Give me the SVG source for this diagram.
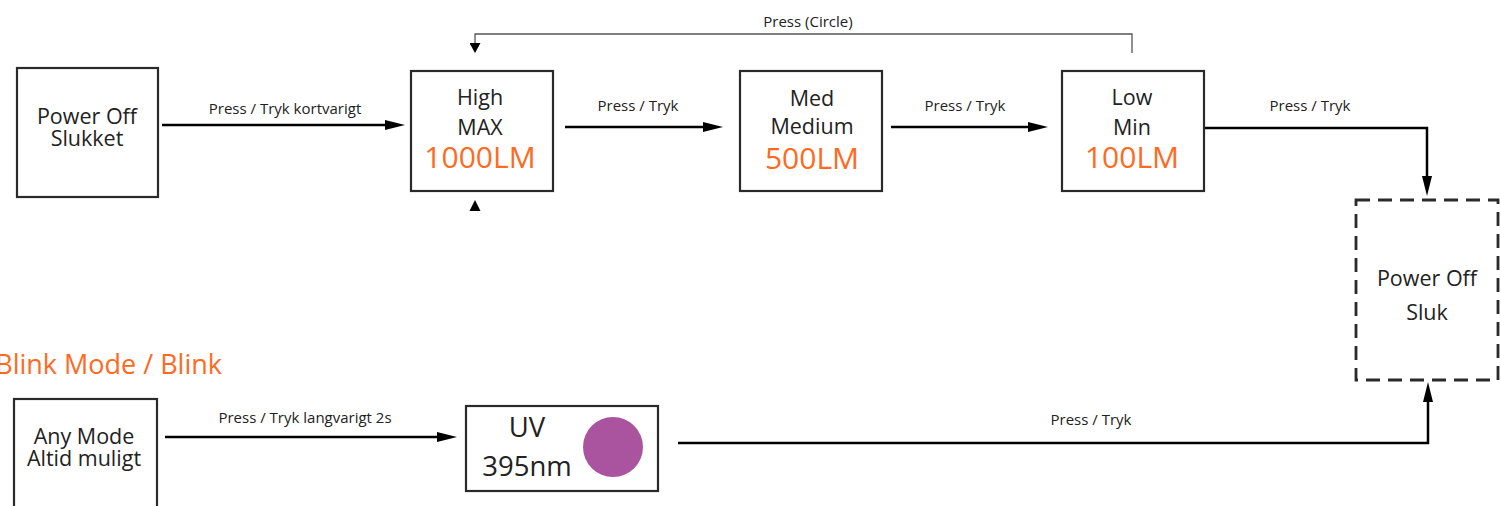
<svg xmlns="http://www.w3.org/2000/svg" width="1501" height="506" viewBox="0 0 1501 506">
<defs>
<style>
.box{fill:#fff;stroke:#2a2a2a;stroke-width:2.2}
.dash{fill:#fff;stroke:#2a2a2a;stroke-width:2.8;stroke-dasharray:14 8}
.t{font-family:"Open Sans","Noto Sans","DejaVu Sans",sans-serif;font-size:21.5px;fill:#222;text-anchor:middle}
.big{font-family:"Open Sans","Noto Sans","DejaVu Sans",sans-serif;font-size:30px;fill:#FF6A1F;text-anchor:middle}
.uv{font-family:"Open Sans","Noto Sans","DejaVu Sans",sans-serif;font-size:27.5px;fill:#222;text-anchor:middle}
.lbl{font-family:"Open Sans","Noto Sans","DejaVu Sans",sans-serif;font-size:15px;fill:#222;text-anchor:middle}
.title{font-family:"Open Sans","Noto Sans","DejaVu Sans",sans-serif;font-size:27px;fill:#FF6A1F;text-anchor:end}
.c{fill:none;stroke:#000;stroke-width:2.5}
.thin{fill:none;stroke:#555;stroke-width:1.3}
</style>
<marker id="arr" markerUnits="userSpaceOnUse" markerWidth="20" markerHeight="10" refX="10" refY="5" orient="auto">
<path d="M0,0 L20,5 L0,10 z" fill="#000"/>
</marker>
<marker id="arrs" markerUnits="userSpaceOnUse" markerWidth="10" markerHeight="11" refX="5" refY="5.5" orient="auto">
<path d="M0,0 L10,5.5 L0,11 z" fill="#000"/>
</marker>
</defs>
<rect width="1501" height="506" fill="#fff"/>

<g id="connectors">
<line class="c" x1="162" y1="125" x2="395" y2="125" marker-end="url(#arr)"/>
<line class="c" x1="565" y1="127" x2="713" y2="127" marker-end="url(#arr)"/>
<line class="c" x1="891" y1="127" x2="1038" y2="127" marker-end="url(#arr)"/>
<path class="c" d="M1205,128 H1427 V186" marker-end="url(#arr)"/>
<path class="thin" d="M1132,53 V34 H475 V48" marker-end="url(#arrs)"/>
<path d="M469.5,211 L475,200 L480.5,211 z" fill="#000"/>
<line class="c" x1="165" y1="437" x2="447" y2="437" marker-end="url(#arr)"/>
<path class="c" d="M678,443 H1428 V392" marker-end="url(#arr)"/>
<text class="lbl" x="285" y="114">Press / Tryk kortvarigt</text>
<text class="lbl" x="638" y="111">Press / Tryk</text>
<text class="lbl" x="965" y="111">Press / Tryk</text>
<text class="lbl" x="1310" y="111">Press / Tryk</text>
<text class="lbl" x="808" y="27">Press (Circle)</text>
<text class="lbl" x="305" y="423">Press / Tryk langvarigt 2s</text>
<text class="lbl" x="1091" y="425">Press / Tryk</text>
</g>

<g id="power-off">
<rect class="box" x="17" y="68" width="141" height="129"/>
<text class="t" x="87" y="124">Power Off</text>
<text class="t" x="87" y="146">Slukket</text>
</g>

<g id="high">
<rect class="box" x="411" y="71" width="142" height="120"/>
<text class="t" x="480" y="105">High</text>
<text class="t" x="480" y="135">MAX</text>
<text class="big" x="480" y="168">1000LM</text>
</g>

<g id="med">
<rect class="box" x="740" y="71" width="142" height="120"/>
<text class="t" x="812" y="106">Med</text>
<text class="t" x="812" y="134">Medium</text>
<text class="big" x="812" y="169">500LM</text>
</g>

<g id="low">
<rect class="box" x="1062" y="71" width="142" height="120"/>
<text class="t" x="1132" y="105">Low</text>
<text class="t" x="1132" y="135">Min</text>
<text class="big" x="1132" y="168">100LM</text>
</g>

<g id="power-off-sluk">
<rect class="dash" x="1356" y="200" width="142" height="180"/>
<text class="t" x="1427" y="286">Power Off</text>
<text class="t" x="1427" y="320">Sluk</text>
</g>

<g id="blink-title">
<text class="title" x="222" y="374">Blink Mode / Blink</text>
</g>

<g id="any-mode">
<rect class="box" x="14" y="399" width="143" height="120"/>
<text class="t" x="84" y="444">Any Mode</text>
<text class="t" x="84" y="466">Altid muligt</text>
</g>

<g id="uv">
<rect class="box" x="466" y="406" width="192" height="85"/>
<text class="uv" x="527" y="437">UV</text>
<text class="uv" x="527" y="476">395nm</text>
<circle cx="613" cy="447" r="30" fill="#AA54A0"/>
</g>
</svg>
